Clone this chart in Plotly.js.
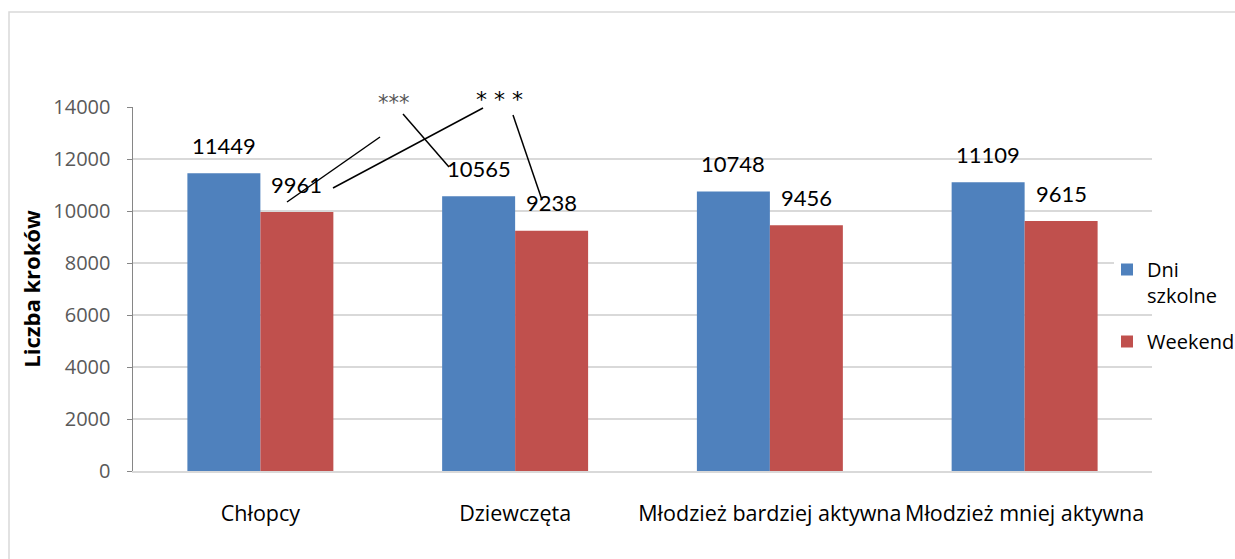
<!DOCTYPE html>
<html>
<head>
<meta charset="utf-8">
<script src="https://cdn.plot.ly/plotly-3.0.1.min.js"></script>
<style>
  html, body { margin: 0; padding: 0; background: #fff; }
  #chart { width: 1235px; height: 559px; }
</style>
</head>
<body>
<div id="chart"></div>
<script>
const categories = ['Chłopcy', 'Dziewczęta', 'Młodzież bardziej aktywna', 'Młodzież mniej aktywna'];
const seriesNames = ['Dni<br>szkolne', 'Weekend'];
const schoolDays = [11449, 10565, 10748, 11109];
const weekend = [9961, 9238, 9456, 9615];
const yTickVals = [0, 2000, 4000, 6000, 8000, 10000, 12000, 14000];
const significance = ['***', '* * *'];

const W = 1235, H = 559;
const M = { l: 133, r: 83, t: 107, b: 88, autoexpand: false };
const plotW = W - M.l - M.r, plotH = H - M.t - M.b;
const px = x => (x - M.l) / plotW;
const py = y => (H - M.b - y) / plotH;
const bargap = 0.427;
const catW = plotW / categories.length;
const barShift = catW * (1 - bargap) / 4;

const FONT = 'Lato, "Open Sans", sans-serif';
const FONT2 = '"Open Sans", Lato, sans-serif';
const STAR = '"DejaVu Sans", sans-serif';

const traces = [
  { type: 'bar', name: seriesNames[0], x: categories, y: schoolDays,
    marker: { color: '#4f81bd' }, legendgroup: 'a', hoverinfo: 'y' },
  { type: 'bar', name: seriesNames[1], x: categories, y: weekend,
    marker: { color: '#c0504d' }, legendgroup: 'b', hoverinfo: 'y' }
];

const annotations = [];
categories.forEach((c, i) => {
  annotations.push({ x: c, y: schoolDays[i], xref: 'x', yref: 'y', text: String(schoolDays[i]),
    showarrow: false, xshift: -barShift, yshift: 28, yanchor: 'middle',
    font: { family: FONT, size: 22, color: '#000' } });
  annotations.push({ x: c, y: weekend[i], xref: 'x', yref: 'y', text: String(weekend[i]),
    showarrow: false, xshift: barShift, yshift: 28, yanchor: 'middle',
    font: { family: FONT, size: 22, color: '#000' } });
});
annotations.push({ x: px(376), y: py(89), xref: 'paper', yref: 'paper', text: significance[0],
  showarrow: false, font: { family: STAR, size: 21, color: '#555' } });
annotations.push({ x: px(499), y: py(85), xref: 'paper', yref: 'paper', text: significance[1],
  showarrow: false, font: { family: STAR, size: 22, color: '#000' } });

const ln = (x0, y0, x1, y1) => ({ type: 'line', xref: 'paper', yref: 'paper',
  x0: px(x0), y0: py(y0), x1: px(x1), y1: py(y1), layer: 'above',
  line: { color: '#000', width: 1.5 } });
const whiteRect = (x0, y0, x1, y1) => ({ type: 'rect', xref: 'paper', yref: 'paper',
  x0: px(x0), y0: py(y0), x1: px(x1), y1: py(y1), layer: 'above',
  fillcolor: '#fff', line: { width: 0 } });

const shapes = [
  { type: 'rect', xref: 'paper', yref: 'paper', x0: px(9), y0: py(12), x1: px(1245), y1: py(570),
    layer: 'below', fillcolor: 'rgba(0,0,0,0)', line: { color: '#d9d9d9', width: 1.5 } },
  whiteRect(339, 84, 400, 112),
  whiteRect(858, 100, 931, 114),
  whiteRect(1114, 255, 1156, 272),
  ln(380, 137, 287, 202),
  ln(483, 108, 333, 188),
  ln(403, 114, 449, 167),
  ln(513, 115, 542, 200)
];

const layout = {
  width: W, height: H,
  margin: M,
  paper_bgcolor: '#fff', plot_bgcolor: '#fff',
  font: { family: FONT2, color: '#000' },
  barmode: 'group', bargap: bargap, bargroupgap: 0,
  showlegend: true,
  legend: { x: px(1107), y: py(250), xanchor: 'left', yanchor: 'top',
    bgcolor: 'rgba(0,0,0,0)', itemwidth: 30, valign: 'top',
    traceorder: 'grouped', tracegroupgap: 17,
    font: { family: FONT2, size: 20, color: '#000' } },
  xaxis: { type: 'category', showgrid: false, zeroline: false, showline: true,
    linecolor: '#d9d9d9', linewidth: 2, ticks: '', ticklabelstandoff: 22,
    tickfont: { family: FONT2, size: 21.5, color: '#000' }, fixedrange: true },
  yaxis: { range: [0, 14000], tickvals: yTickVals, tickformat: 'd', showgrid: true, gridcolor: '#d9d9d9', gridwidth: 2,
    zeroline: false, showline: true, linecolor: '#868686', linewidth: 1.5,
    ticks: 'outside', ticklen: 5, tickcolor: '#868686', ticklabelstandoff: 12,
    tickfont: { family: FONT2, size: 20, color: '#595959' },
    title: { text: 'Liczba kroków', standoff: 6, font: { family: FONT2, size: 22, color: '#000', weight: 'bold' } },
    automargin: false, fixedrange: true },
  annotations: annotations,
  shapes: shapes
};

Plotly.newPlot('chart', traces, layout, { displayModeBar: false, staticPlot: true });
</script>
</body>
</html>
